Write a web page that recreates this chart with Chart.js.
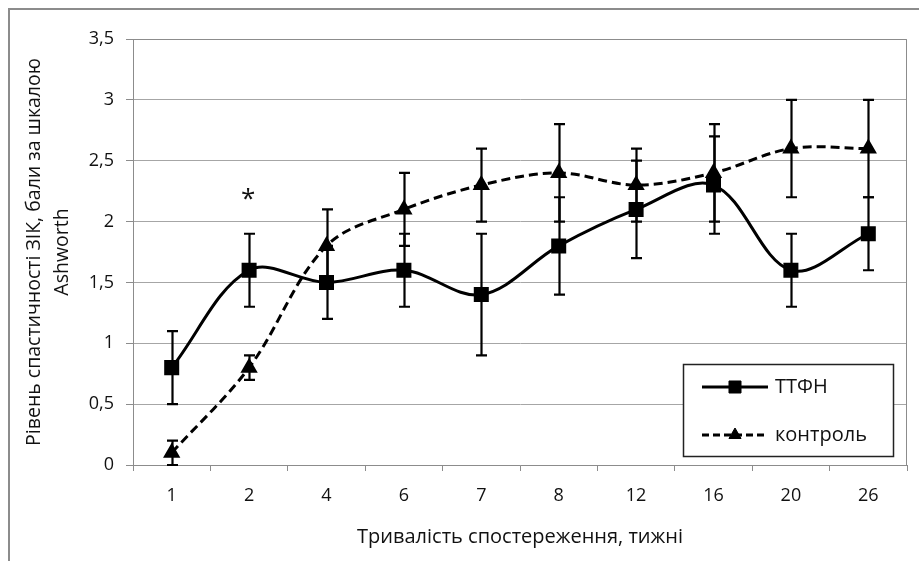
<!DOCTYPE html>
<html>
<head>
<meta charset="utf-8">
<script src="https://cdn.jsdelivr.net/npm/chart.js@4"></script>
<style>
  html, body { margin: 0; padding: 0; background: #fff; }
  canvas { display: block; }
</style>
</head>
<body>
<canvas id="chart" width="919" height="561"></canvas>
<script>
// Data
const weeks = ['1', '2', '4', '6', '7', '8', '12', '16', '20', '26'];
const ttfnValues = [0.8, 1.6, 1.5, 1.6, 1.4, 1.8, 2.1, 2.3, 1.6, 1.9];
const ttfnLow = [0.5, 1.3, 1.2, 1.3, 0.9, 1.4, 1.7, 1.9, 1.3, 1.6];
const ttfnHigh = [1.1, 1.9, 1.8, 1.9, 1.9, 2.2, 2.5, 2.7, 1.9, 2.2];
const controlValues = [0.1, 0.8, 1.8, 2.1, 2.3, 2.4, 2.3, 2.4, 2.6, 2.6];
const controlLow = [0, 0.7, 1.5, 1.8, 2.0, 2.0, 2.0, 2.0, 2.2, 2.2];
const controlHigh = [0.2, 0.9, 2.1, 2.4, 2.6, 2.8, 2.6, 2.8, 3.0, 3.0];
const yTicks = [0, 0.5, 1, 1.5, 2, 2.5, 3, 3.5];
const starWeek = '2';
const starValue = 2.25;

const fontFamily = "'Open Sans', 'Noto Sans', sans-serif";
const textColor = '#111';

// error bars, plot frame, outer frame, asterisk and legend box
const extrasPlugin = {
  id: 'extras',
  beforeDraw(chart) {
    const ctx = chart.ctx;
    ctx.save();
    ctx.strokeStyle = '#8c8c8c';
    ctx.lineWidth = 2;
    ctx.beginPath();
    ctx.moveTo(9, 561);
    ctx.lineTo(9, 9);
    ctx.lineTo(919, 9);
    ctx.stroke();
    ctx.restore();
  },
  afterDatasetsDraw(chart) {
    const ctx = chart.ctx;
    const x = chart.scales.x;
    const y = chart.scales.y;
    const area = chart.chartArea;

    // plot frame top / right
    ctx.save();
    ctx.strokeStyle = '#8c8c8c';
    ctx.lineWidth = 1;
    ctx.beginPath();
    ctx.moveTo(area.left, area.top + 0.5);
    ctx.lineTo(area.right - 0.5, area.top + 0.5);
    ctx.lineTo(area.right - 0.5, area.bottom);
    ctx.stroke();
    ctx.restore();

    // error bars
    const bars = [[ttfnLow, ttfnHigh], [controlLow, controlHigh]];
    ctx.save();
    ctx.strokeStyle = '#000';
    ctx.lineWidth = 2.2;
    bars.forEach(([lo, hi]) => {
      weeks.forEach((w, i) => {
        const px = Math.round(x.getPixelForValue(i)) + 0.5;
        const y1 = y.getPixelForValue(lo[i]);
        const y2 = y.getPixelForValue(hi[i]);
        ctx.beginPath();
        ctx.moveTo(px, y1);
        ctx.lineTo(px, y2);
        ctx.moveTo(px - 5.5, y1);
        ctx.lineTo(px + 5.5, y1);
        ctx.moveTo(px - 5.5, y2);
        ctx.lineTo(px + 5.5, y2);
        ctx.stroke();
      });
    });
    ctx.restore();

    // asterisk
    ctx.save();
    ctx.fillStyle = textColor;
    ctx.font = '26px ' + fontFamily;
    ctx.textAlign = 'center';
    ctx.textBaseline = 'middle';
    ctx.fillText('*', x.getPixelForValue(weeks.indexOf(starWeek)) - 1, y.getPixelForValue(starValue) + 8);
    ctx.restore();

    // legend box
    ctx.save();
    ctx.fillStyle = '#fff';
    ctx.fillRect(683, 364, 210, 92);
    ctx.strokeStyle = '#222';
    ctx.lineWidth = 1.5;
    ctx.strokeRect(683.5, 364.5, 210, 92);
    const rows = [387, 435];
    chart.data.datasets.forEach((ds, i) => {
      const ry = rows[i];
      ctx.strokeStyle = ds.borderColor;
      ctx.lineWidth = ds.borderWidth;
      ctx.setLineDash(ds.borderDash ? [7, 4] : []);
      ctx.beginPath();
      ctx.moveTo(702, ry);
      ctx.lineTo(768, ry);
      ctx.stroke();
      ctx.setLineDash([]);
      ctx.fillStyle = '#000';
      ctx.lineWidth = 1;
      Chart.helpers.drawPoint(ctx, {
        pointStyle: ds.pointStyle,
        radius: ds.pointRadius,
        borderWidth: 1
      }, 735, ry);
      ctx.fillStyle = textColor;
      ctx.font = '20px ' + fontFamily;
      ctx.textAlign = 'left';
      ctx.textBaseline = 'middle';
      ctx.fillText(ds.label, 775, ry);
    });
    ctx.restore();
  }
};

new Chart(document.getElementById('chart'), {
  type: 'line',
  data: {
    labels: weeks,
    datasets: [{
      label: 'ТТФН',
      data: ttfnValues,
      borderColor: '#000',
      backgroundColor: '#000',
      borderWidth: 3,
      pointStyle: 'rect',
      pointRadius: 8.5,
      pointBackgroundColor: '#000',
      pointBorderColor: '#000',
      tension: 0.35
    }, {
      label: 'контроль',
      data: controlValues,
      borderColor: '#000',
      backgroundColor: '#000',
      borderWidth: 3,
      borderDash: [9, 5],
      pointStyle: 'triangle',
      pointRadius: 7,
      pointBackgroundColor: '#000',
      pointBorderColor: '#000',
      tension: 0.35
    }]
  },
  options: {
    responsive: false,
    animation: false,
    layout: {
      padding: { top: 39, right: 12, left: 0, bottom: 0 }
    },
    plugins: {
      legend: { display: false },
      tooltip: { enabled: false }
    },
    scales: {
      x: {
        offset: true,
        grid: {
          offset: true,
          drawOnChartArea: false,
          tickLength: 6,
          color: '#8c8c8c'
        },
        border: { color: '#8c8c8c' },
        ticks: {
          padding: 14,
          color: textColor,
          font: { family: fontFamily, size: 18 }
        },
        title: {
          display: true,
          text: 'Тривалість спостереження, тижні',
          color: textColor,
          font: { family: fontFamily, size: 20 },
          padding: { top: 0, bottom: 12 }
        },
        afterFit(scale) { scale.height = 96; }
      },
      y: {
        min: 0,
        max: 3.5,
        afterBuildTicks(scale) {
          scale.ticks = yTicks.map(v => ({ value: v }));
        },
        grid: {
          color: '#a6a6a6',
          tickLength: 7,
          tickColor: '#8c8c8c'
        },
        border: { color: '#8c8c8c' },
        ticks: {
          padding: 12,
          color: textColor,
          font: { family: fontFamily, size: 18 },
          callback: v => String(v).replace('.', ',')
        },
        title: {
          display: true,
          text: ['Рівень спастичності ЗІК, бали за шкалою', 'Ashworth'],
          color: textColor,
          font: { family: fontFamily, size: 19.5, lineHeight: 1.42 },
          padding: { top: 21, bottom: 0 }
        },
        afterFit(scale) { scale.width = 133; }
      }
    }
  },
  plugins: [extrasPlugin]
});
</script>
</body>
</html>
